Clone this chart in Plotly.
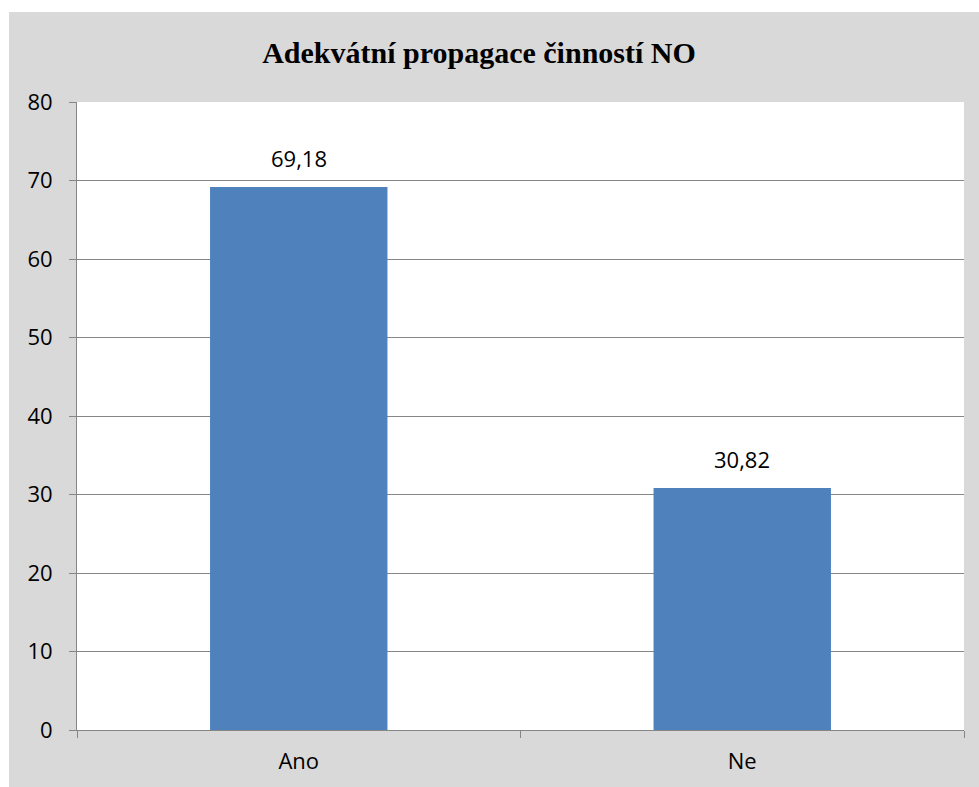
import plotly.graph_objects as go

categories = ["Ano", "Ne"]
values = [69.18, 30.82]
value_labels = ["69,18", "30,82"]
title_text = "Adekvátní propagace činností NO"

W, H = 979, 787
L, R, T, B = 77, 15, 102, 57
pw = W - L - R
ph = H - T - B

BAR = "#4f81bd"
GRID = "#868686"
BG = "#d9d9d9"
FONT = "Open Sans"

fig = go.Figure()
fig.add_trace(go.Bar(
    x=categories, y=values, marker=dict(color=BAR, line=dict(width=0)),
    width=0.4, hoverinfo="skip",
))

for c, v, t in zip(categories, values, value_labels):
    fig.add_annotation(x=c, y=v, text=t, showarrow=False, yanchor="bottom",
                       yshift=12, font=dict(family=FONT, size=22, color="#000000"))

# gray chart background and white plot area
fig.add_shape(type="rect", xref="paper", yref="paper",
              x0=(9 - L) / pw, x1=(W + 5 - L) / pw,
              y0=(H - B - (H + 5)) / ph, y1=(H - B - 12) / ph,
              fillcolor=BG, line=dict(width=0), layer="below")
fig.add_shape(type="rect", xref="paper", yref="paper", x0=0, x1=1, y0=0, y1=1,
              fillcolor="white", line=dict(width=0), layer="below")

fig.update_layout(
    width=W, height=H,
    margin=dict(l=L, r=R, t=T, b=B),
    paper_bgcolor="white", plot_bgcolor="white",
    showlegend=False,
    title=dict(text="<b>" + title_text + "</b>", xref="container", yref="container",
               x=479 / W, xanchor="center", y=1 - 52 / H, yanchor="middle",
               font=dict(family="Liberation Serif", size=30, color="#000000")),
    font=dict(family=FONT, size=22, color="#000000"),
)
fig.update_xaxes(type="category", tickson="boundaries", ticks="outside", ticklen=7,
                 tickcolor=GRID, showline=True, linecolor=GRID, linewidth=1,
                 showgrid=False, tickfont=dict(family=FONT, size=22, color="#000000"),
                 ticklabelstandoff=12, range=[-0.5, 1.5])
fig.update_yaxes(range=[0, 80], dtick=10, ticks="outside", ticklen=7, tickcolor=GRID,
                 showline=True, linecolor=GRID, linewidth=1, showgrid=True,
                 gridcolor=GRID, gridwidth=1, zeroline=False,
                 tickfont=dict(family=FONT, size=22, color="#000000"),
                 ticklabelstandoff=12)

fig.write_html("out.html")
